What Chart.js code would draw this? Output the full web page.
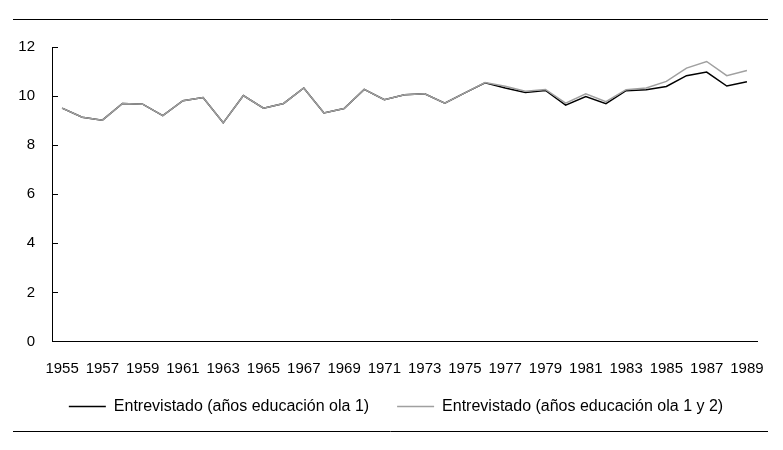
<!DOCTYPE html>
<html>
<head>
<meta charset="utf-8">
<script src="https://cdn.jsdelivr.net/npm/chart.js@4/dist/chart.umd.min.js"></script>
<style>
  html, body { margin: 0; padding: 0; background: #fff; }
  #wrap { position: relative; width: 783px; height: 450px; }
</style>
</head>
<body>
<div id="wrap"><canvas id="c" width="783" height="450"></canvas></div>
<script>
// ---- data ----
const years = [1955,1956,1957,1958,1959,1960,1961,1962,1963,1964,1965,1966,1967,1968,1969,1970,1971,1972,1973,1974,1975,1976,1977,1978,1979,1980,1981,1982,1983,1984,1985,1986,1987,1988,1989];
const ola1 = [9.51,9.14,9.02,9.70,9.67,9.20,9.81,9.94,8.91,10.02,9.51,9.70,10.33,9.31,9.49,10.27,9.85,10.05,10.09,9.71,10.13,10.54,10.33,10.15,10.23,9.63,9.98,9.69,10.22,10.26,10.39,10.83,10.98,10.41,10.58];
const ola12 = [9.51,9.14,9.02,9.70,9.67,9.20,9.81,9.94,8.91,10.02,9.51,9.70,10.33,9.31,9.49,10.27,9.85,10.05,10.09,9.71,10.13,10.55,10.40,10.20,10.27,9.71,10.09,9.77,10.26,10.33,10.60,11.14,11.41,10.83,11.04];
const seriesNames = ['Entrevistado (años educación ola 1)', 'Entrevistado (años educación ola 1 y 2)'];
const yTicks = [0, 2, 4, 6, 8, 10, 12];

const FONT = "'Liberation Sans', Arial, sans-serif";

const rules = {
  id: 'rules',
  afterLayout(chart) {
    // nudge the legend block to its place under the plot
    const lg = chart.legend;
    if (lg) { lg.left += 12.5; lg.right += 12.5; lg.top -= 11; lg.bottom -= 11; }
  },
  afterDraw(chart) {
    const ctx = chart.ctx;
    ctx.save();
    ctx.strokeStyle = '#000';
    ctx.lineWidth = 1;
    ctx.beginPath();
    ctx.moveTo(13, 19.5); ctx.lineTo(768, 19.5);
    ctx.moveTo(13, 431.5); ctx.lineTo(768, 431.5);
    ctx.stroke();
    ctx.restore();
  }
};

new Chart(document.getElementById('c'), {
  type: 'line',
  data: {
    labels: years.map(String),
    datasets: [
      { label: seriesNames[0], data: ola1, borderColor: '#000000', backgroundColor: '#000000',
        borderWidth: 1.5, pointRadius: 0, tension: 0, order: 1 },
      { label: seriesNames[1], data: ola12, borderColor: '#a0a0a0', backgroundColor: '#a0a0a0',
        borderWidth: 1.5, pointRadius: 0, tension: 0, order: 0 }
    ]
  },
  options: {
    responsive: false,
    animation: false,
    devicePixelRatio: 1,
    layout: { padding: { top: 47, left: 10, right: 26, bottom: 14.5 } },
    plugins: {
      tooltip: { enabled: false },
      legend: {
        position: 'bottom',
        labels: {
          font: { family: FONT, size: 16 },
          color: '#000',
          boxWidth: 37,
          boxHeight: 1.5,
          padding: 28,
          sort: (a, b) => a.datasetIndex - b.datasetIndex,
          generateLabels(chart) {
            const items = Chart.defaults.plugins.legend.labels.generateLabels(chart);
            items.forEach(it => { it.fillStyle = it.strokeStyle; it.lineWidth = 0; });
            return items;
          }
        }
      }
    },
    scales: {
      x: {
        type: 'category',
        offset: true,
        grid: { display: false, drawTicks: false },
        border: { display: true, color: '#000', width: 1 },
        ticks: {
          font: { family: FONT, size: 15 },
          color: '#000',
          padding: 18,
          autoSkip: false,
          maxRotation: 0,
          callback(v, i) { return i % 2 === 0 ? this.getLabelForValue(v) : ''; }
        },
        afterFit(s) { s.height = 40; }
      },
      y: {
        min: 0, max: 12,
        afterBuildTicks(s) { s.ticks = yTicks.map(v => ({ value: v })); },
        grid: { display: true, drawOnChartArea: false, drawTicks: true, tickLength: -6, color: '#000', lineWidth: 1 },
        border: { display: true, color: '#000', width: 1 },
        ticks: { font: { family: FONT, size: 15 }, color: '#000', padding: 23 },
        afterFit(s) { s.width = 42; }
      }
    }
  },
  plugins: [rules]
});
</script>
</body>
</html>
